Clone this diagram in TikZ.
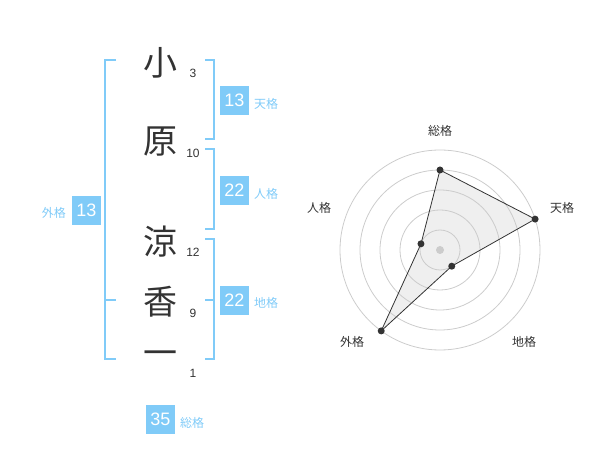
\documentclass[tikz,border=0pt]{standalone}
\usepackage{fontspec}
\setmainfont{Liberation Sans}
\newfontfamily\cjk{Noto Sans CJK JP}
\definecolor{blu}{HTML}{80CBF8}
\definecolor{ink}{HTML}{333333}
\definecolor{ring}{HTML}{CCCCCC}
\definecolor{fillg}{HTML}{E8E8E8}
\begin{document}
\begin{tikzpicture}[x=1pt,y=-1pt,
  kanji/.style={font=\cjk\fontsize{34}{34}\selectfont,text=ink,inner sep=0pt},
  strk/.style={font=\fontsize{12}{12}\selectfont,text=ink,inner sep=0pt},
  numbox/.style={fill=blu,text=white,minimum width=29pt,minimum height=29pt,inner sep=0pt,font=\fontsize{18}{18}\selectfont},
  blab/.style={font=\cjk\fontsize{12}{12}\selectfont,text=blu,inner sep=0pt},
  rlab/.style={font=\cjk\fontsize{12}{12}\selectfont,text=ink,inner sep=0pt},
  brk/.style={draw=blu,line width=2pt},
  dot/.style={circle,fill=ink,inner sep=0pt,minimum size=7pt},
]
\useasboundingbox (0,0) rectangle (600,470);
% characters
\node[kanji] (c1) at (160,63) {小};
\node[kanji] (c2) at (160,142) {原};
\node[kanji] (c3) at (160,242) {涼};
\node[kanji] (c4) at (160,302) {香};
\node[kanji] (c5) at (160,358) {一};
\node[strk] (n1) at (193,73) {3};
\node[strk] (n2) at (193,153) {10};
\node[strk] (n3) at (193,252) {12};
\node[strk] (n4) at (193,313) {9};
\node[strk] (n5) at (193,373) {1};
% brackets
\coordinate (la) at (116,60); \coordinate (lb) at (105,60);
\coordinate (lc) at (105,359); \coordinate (ld) at (116,359);
\coordinate (lm1) at (105,300); \coordinate (lm2) at (116,300);
\draw[brk] (la) -- (lb) -- (lc) -- (ld);
\draw[brk] (lm1) -- (lm2);
\coordinate (t1) at (205,60); \coordinate (t2) at (214,60);
\coordinate (t3) at (214,139); \coordinate (t4) at (205,139);
\draw[brk] (t1) -- (t2) -- (t3) -- (t4);
\coordinate (h1) at (205,149); \coordinate (h2) at (214,149);
\coordinate (h3) at (214,229); \coordinate (h4) at (205,229);
\draw[brk] (h1) -- (h2) -- (h3) -- (h4);
\coordinate (g1) at (205,239); \coordinate (g2) at (214,239);
\coordinate (g3) at (214,359); \coordinate (g4) at (205,359);
\coordinate (gm1) at (205,300); \coordinate (gm2) at (214,300);
\draw[brk] (g1) -- (g2) -- (g3) -- (g4);
\draw[brk] (gm1) -- (gm2);
% boxes
\node[numbox] (bt) at (234.5,100.5) {13};
\node[blab,anchor=west] (lt) at (254,104) {天格};
\node[numbox] (bj) at (234.5,190.5) {22};
\node[blab,anchor=west] (lj) at (254,194) {人格};
\node[numbox] (bc) at (234.5,300.5) {22};
\node[blab,anchor=west] (lc2) at (254,303) {地格};
\node[numbox] (bg) at (86.5,210.5) {13};
\node[blab,anchor=east] (lg) at (66,213) {外格};
\node[numbox] (bs) at (160.5,419.5) {35};
\node[blab,anchor=west] (ls) at (180,423) {総格};
% radar
\coordinate (O) at (440,250);
\path (O) ++(-90:80) coordinate (ps);
\path (O) ++(-18:100) coordinate (pt);
\path (O) ++(54:20) coordinate (pc);
\path (O) ++(126:100) coordinate (pg);
\path (O) ++(198:20) coordinate (pj);
\fill[fillg,fill opacity=0.7] (ps) -- (pt) -- (pc) -- (pg) -- (pj) -- cycle;
\foreach \r in {20,40,60,80,100} \draw[ring,line width=0.8pt] (O) circle (\r);
\node[circle,fill=ring,inner sep=0pt,minimum size=8pt] (ctr) at (O) {};
\draw[ink,line width=0.8pt] (ps) -- (pt) -- (pc) -- (pg) -- (pj) -- cycle;
\foreach \p in {ps,pt,pc,pg,pj} \node[dot] (d\p) at (\p) {};
\node[rlab] (rs) at (440,131) {総格};
\node[rlab] (rt) at (562,208) {天格};
\node[rlab] (rj) at (319,208) {人格};
\node[rlab] (rg) at (352,342) {外格};
\node[rlab] (rc) at (524,342) {地格};
\end{tikzpicture}
\end{document}
